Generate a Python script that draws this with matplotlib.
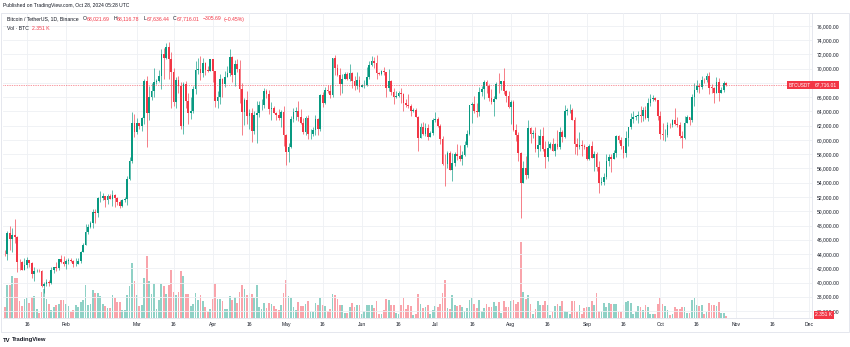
import numpy as np
import pandas as pd
import matplotlib
matplotlib.use("Agg")
import matplotlib.pyplot as plt
import matplotlib.dates as mdates
from matplotlib.patches import Rectangle

plt.rcParams['font.family'] = ['Liberation Sans', 'DejaVu Sans']

# daily BTC/USDT candles, Jan 3 - Oct 28 2024
dates = pd.date_range("2024-01-03", "2024-10-28", freq="D")

opens = [
    # Jan
    44946, 42845, 44151, 44162, 43989, 43943, 46970, 46139, 46627, 46368, 42853, 42842, 41732, 42511, 43137,
    42776, 41262, 41618, 41665, 41545, 39507, 39845, 40077, 39933, 41816, 42120, 42031, 43302, 42941,
    # Feb
    42580, 43082, 43200, 43011, 42583, 42658, 43084, 44339, 45293, 47147, 47771, 48293, 49958, 49699, 51796,
    51880, 52124, 51642, 52137, 51774, 52258, 51849, 51304, 50731, 51571, 51733, 54476, 57037, 62432,
    # Mar
    61130, 62387, 61987, 63113, 68245, 63724, 66074, 66823, 68124, 68313, 68955, 72078, 71452, 73072, 71388,
    69499, 65300, 68393, 67609, 61937, 67840, 65501, 63796, 64037, 67211, 69880, 69988, 69455, 70744, 69892, 69645,
    # Apr
    71333, 69702, 65446, 65980, 68508, 67837, 68896, 69360, 71620, 69146, 70631, 70006, 67116, 63924, 65661,
    63419, 63793, 61277, 63470, 63818, 64940, 64941, 66819, 66414, 64289, 64498, 63770, 63462, 63118, 63866,
    # May
    60672, 58364, 59060, 62882, 63892, 64031, 63162, 62334, 61187, 63049, 60792, 60793, 61448, 62901, 61553,
    66267, 65231, 67051, 66940, 66278, 71448, 70136, 69122, 67929, 68526, 69265, 68518, 69394, 68296, 67578, 68364,
    # Jun
    67491, 67706, 67751, 68804, 70567, 71082, 70757, 69342, 69305, 69647, 69512, 67321, 68243, 66756, 66011,
    66191, 66639, 66490, 65140, 64960, 64828, 64096, 64252, 63180, 60277, 61804, 60864, 61706, 60427, 60986,
    # Jul
    62772, 62900, 62029, 60173, 56662, 56639, 58231, 55857, 56705, 58047, 57718, 57343, 57899, 59231, 60787,
    64870, 65097, 64118, 63974, 66710, 67163, 68154, 67586, 65927, 65372, 65777, 67912, 67813, 68255, 66819, 66201,
    # Aug
    64619, 65357, 61415, 60680, 58116, 53991, 56034, 55027, 61710, 60880, 60945, 58719, 59354, 60609, 58737,
    57560, 58874, 59491, 58427, 59438, 59013, 61157, 60381, 64037, 64157, 64220, 62834, 59415, 59034, 59359, 59119,
    # Sep
    58973, 57301, 59132, 57487, 57970, 56160, 53962, 54160, 54869, 57050, 57648, 57341, 58127, 60571, 60005,
    59182, 58212, 60309, 61759, 62947, 63201, 63348, 63578, 63339, 64262, 63143, 65181, 65769, 65858, 65602,
    # Oct
    63327, 60805, 60649, 60752, 62086, 62058, 62819, 62224, 62131, 60582, 60275, 62445, 63193, 62851, 66046,
    67041, 67612, 67399, 68418, 68362, 69001, 67367, 67362, 66653, 68161, 66642, 67014, 68021.69,
]

highs = [
    45500, 44730, 44361, 44226, 44495, 47248, 47894, 47695, 48969, 46515, 43247, 43079, 43400, 43578, 43198,
    42930, 42196, 41870, 41872, 41700, 40129, 40555, 40300, 42225, 42200, 42842, 43305, 43882, 43745,
    43285, 43494, 43381, 43119, 43494, 43376, 44389, 45614, 48200, 48170, 48575, 50334, 50368, 52043, 52816,
    52575, 52191, 52357, 52485, 52985, 52367, 52065, 51548, 51698, 51950, 54938, 57588, 63913, 63676,
    63114, 62433, 63230, 68499, 69000, 67637, 67985, 70136, 68541, 69887, 72800, 72966, 73650, 73777, 72357,
    70043, 68904, 68956, 68124, 68106, 68240, 66650, 65999, 67622, 71150, 71561, 71769, 71552, 70913, 70355, 71377,
    71342, 69708, 66914, 69291, 68725, 69629, 70326, 72797, 71758, 71172, 71305, 71227, 67932, 65840, 66867,
    64365, 64499, 64125, 65450, 65419, 65700, 67233, 67199, 67075, 65297, 64837, 63923, 64362, 64228, 64734,
    60780, 59625, 63320, 64544, 64646, 65500, 64390, 63019, 63421, 63469, 61490, 61850, 63450, 63099, 66454,
    66753, 67451, 67700, 67700, 71515, 71979, 70623, 70041, 69250, 69563, 69500, 70687, 69560, 68920, 69500, 69033,
    67857, 68409, 70288, 71063, 71758, 71625, 71997, 69583, 69860, 70195, 69558, 69999, 68449, 67294, 66895,
    66928, 67298, 66556, 65727, 66482, 65066, 64528, 64491, 63369, 62350, 62487, 62389, 62225, 61224, 63059,
    63862, 63289, 62275, 60498, 58000, 58475, 58449, 58236, 58296, 59470, 59359, 58526, 59850, 61420, 64900,
    65388, 66128, 65123, 67442, 67598, 68366, 68480, 67800, 67102, 66151, 68200, 69399, 68319, 70079, 66987, 66810,
    65660, 65596, 62189, 61117, 58305, 57040, 57717, 62745, 61800, 61470, 61858, 60713, 61572, 61800, 59850,
    59817, 59700, 60284, 59617, 61432, 61820, 61400, 64955, 64500, 65000, 64481, 63212, 60236, 61166, 59945, 59450,
    59064, 59425, 59809, 58519, 58327, 56995, 54850, 55318, 58088, 58044, 57991, 58588, 60648, 60656, 60381,
    59210, 61320, 61786, 63850, 64133, 63559, 64000, 64745, 64688, 64817, 65839, 66498, 66260, 66076, 65618,
    64130, 62390, 61477, 62484, 62370, 62975, 64478, 63200, 62543, 61321, 63417, 63480, 63285, 66500, 67950,
    68424, 67939, 68969, 68668, 69400, 69500, 67836, 67451, 68850, 68771, 67454, 68332, 68116.78,
]

lows = [
    40750, 42613, 42600, 43400, 43655, 43175, 44500, 44300, 45606, 41500, 41750, 41720, 41718, 42050, 42200,
    40683, 40280, 41500, 41446, 39431, 38555, 39485, 39550, 39822, 41394, 41620, 41804, 42683, 42276,
    41884, 42564, 42880, 42222, 42258, 42565, 42788, 44331, 45242, 46800, 47618, 47710, 48300, 49225, 51310,
    51600, 50625, 51009, 51715, 50760, 50625, 50940, 50521, 50585, 51280, 50901, 54450, 56738, 60364,
    60777, 61561, 61321, 62300, 59005, 62849, 65603, 66000, 67862, 68094, 67194, 68620, 71333, 68555, 64533,
    64780, 64533, 66566, 61555, 60775, 64529, 62260, 63000, 63825, 66386, 69280, 68359, 68904, 69077, 69601, 69624,
    68110, 64586, 64493, 65113, 66011, 67491, 68824, 69043, 68210, 67518, 69567, 65254, 60660, 62134, 62274,
    61600, 59768, 60775, 59600, 63172, 64277, 64500, 65864, 63589, 62794, 63747, 62824, 62793, 61765, 59191,
    56552, 56937, 58849, 62584, 62822, 62700, 62300, 60888, 60769, 60187, 60150, 60631, 60749, 60760, 61320,
    64602, 65107, 66600, 65857, 66060, 69162, 68977, 66312, 66600, 68500, 68456, 68250, 67300, 67075, 67118, 66670,
    67386, 67257, 67612, 68567, 70383, 70119, 68500, 69182, 69130, 69160, 66051, 66902, 66304, 65056, 65890,
    66091, 65130, 64066, 64693, 64559, 63379, 63943, 63180, 58402, 60239, 60712, 60606, 60063, 60383, 60712,
    62497, 61805, 59400, 56550, 53485, 56018, 55724, 54260, 56289, 57157, 57050, 56542, 57756, 59080, 60632,
    62432, 63854, 63246, 63300, 66222, 65777, 66574, 65441, 65106, 63426, 65727, 66640, 67066, 66482, 65302, 64532,
    62303, 61200, 59850, 57122, 49000, 53967, 54560, 54730, 59573, 60242, 58286, 57642, 58506, 58433, 56078,
    57098, 58785, 58408, 57787, 58786, 58783, 59724, 60345, 63540, 63773, 62800, 58034, 57860, 58752, 57703, 58745,
    57201, 57128, 57415, 55606, 55643, 52550, 53745, 53629, 54591, 56386, 55567, 57324, 57650, 59517, 58696,
    57493, 57610, 59174, 61555, 62350, 62758, 62357, 62538, 62700, 62947, 62670, 64819, 65422, 65432, 62856,
    60164, 59996, 59828, 60459, 61689, 61798, 62128, 61860, 60300, 58946, 60087, 62370, 62050, 62457, 64800,
    66750, 66666, 67177, 68024, 68100, 66518, 66571, 65260, 66559, 65522, 66560, 66700, 67636.44,
]

closes = [
    42845, 44151, 44162, 43989, 43943, 46970, 46139, 46627, 46368, 42853, 42842, 41732, 42511, 43137, 42776,
    41262, 41618, 41665, 41545, 39507, 39845, 40077, 39933, 41816, 42120, 42031, 43302, 42941, 42580,
    43082, 43200, 43011, 42583, 42658, 43084, 44339, 45293, 47147, 47771, 48293, 49958, 49699, 51796, 51880,
    52124, 51642, 52137, 51774, 52258, 51849, 51304, 50731, 51571, 51733, 54476, 57037, 62432, 61130,
    62387, 61987, 63113, 68245, 63724, 66074, 66823, 68124, 68313, 68955, 72078, 71452, 73072, 71388, 69499,
    65300, 68393, 67609, 61937, 67840, 65501, 63796, 64037, 67211, 69880, 69988, 69455, 70744, 69892, 69645, 71333,
    69702, 65446, 65980, 68508, 67837, 68896, 69360, 71620, 69146, 70631, 70006, 67116, 63924, 65661, 63419,
    63793, 61277, 63470, 63818, 64940, 64941, 66819, 66414, 64289, 64498, 63770, 63462, 63118, 63866, 60672,
    58364, 59060, 62882, 63892, 64031, 63162, 62334, 61187, 63049, 60792, 60793, 61448, 62901, 61553, 66267,
    65231, 67051, 66940, 66278, 71448, 70136, 69122, 67929, 68526, 69265, 68518, 69394, 68296, 67578, 68364, 67491,
    67706, 67751, 68804, 70567, 71082, 70757, 69342, 69305, 69647, 69512, 67321, 68243, 66756, 66011, 66191,
    66639, 66490, 65140, 64960, 64828, 64096, 64252, 63180, 60277, 61804, 60864, 61706, 60427, 60986, 62772,
    62900, 62029, 60173, 56662, 56639, 58231, 55857, 56705, 58047, 57718, 57343, 57899, 59231, 60787, 64870,
    65097, 64118, 63974, 66710, 67163, 68154, 67586, 65927, 65372, 65777, 67912, 67813, 68255, 66819, 66201, 64619,
    65357, 61415, 60680, 58116, 53991, 56034, 55027, 61710, 60880, 60945, 58719, 59354, 60609, 58737, 57560,
    58874, 59491, 58427, 59438, 59013, 61157, 60381, 64037, 64157, 64220, 62834, 59415, 59034, 59359, 59119, 58973,
    57301, 59132, 57487, 57970, 56160, 53962, 54160, 54869, 57050, 57648, 57341, 58127, 60571, 60005, 59182,
    58212, 60309, 61759, 62947, 63201, 63348, 63578, 63339, 64262, 63143, 65181, 65769, 65858, 65602, 63327,
    60805, 60649, 60752, 62086, 62058, 62819, 62224, 62131, 60582, 60275, 62445, 63193, 62851, 66046, 67041,
    67612, 67399, 68418, 68362, 69001, 67367, 67362, 66653, 68161, 66642, 67014, 68022, 67716.01,
]

# volume in thousand BTC
volumes = [
    45, 15, 15, 10, 14, 41, 41, 53, 50, 50, 21, 15, 24, 25, 19, 26, 28, 11, 6, 33, 36, 24, 18, 10, 14, 16, 18, 23, 23,
    18, 15, 8, 10, 16, 14, 20, 23, 41, 16, 18, 35, 31, 31, 28, 18, 15, 13, 13, 29, 25, 20, 20, 10, 10, 29, 40, 69, 46,
    29, 15, 16, 50, 78, 46, 30, 43, 11, 23, 43, 40, 30, 41, 60, 33, 29, 33, 59, 53, 30, 30, 15, 18, 31, 23, 29, 21, 14, 8, 11,
    24, 43, 24, 24, 21, 11, 11, 28, 23, 26, 19, 33, 41, 36, 29, 31, 30, 25, 41, 14, 11, 19, 13, 19, 18, 15, 11, 10, 16, 31,
    48, 28, 25, 14, 10, 20, 15, 15, 18, 21, 8, 8, 19, 16, 25, 16, 15, 9, 11, 30, 29, 24, 16, 16, 6, 6, 14, 19, 14, 16, 16,
    5, 9, 16, 16, 16, 13, 21, 5, 5, 10, 24, 23, 16, 16, 6, 5, 16, 25, 11, 16, 15, 4, 5, 30, 18, 13, 14, 16, 5, 10,
    15, 14, 18, 31, 48, 13, 11, 29, 16, 15, 16, 14, 9, 13, 23, 25, 18, 13, 23, 9, 13, 18, 14, 14, 20, 15, 20, 6, 21, 14, 14,
    21, 23, 18, 20, 95, 33, 24, 29, 18, 5, 11, 21, 16, 16, 21, 16, 4, 8, 15, 18, 15, 21, 9, 8, 5, 21, 21, 8, 16, 5, 13,
    14, 14, 21, 16, 31, 9, 9, 19, 14, 19, 18, 18, 18, 8, 8, 16, 20, 21, 19, 5, 9, 15, 14, 10, 16, 14, 5, 5, 5, 18,
    25, 18, 15, 10, 4, 5, 14, 11, 11, 14, 14, 6, 6, 23, 25, 16, 15, 16, 5, 8, 19, 16, 16, 15, 20, 6, 6, 2.351,
]

price_ticks = list(range(36000, 77000, 2000))
time_ticks = ["2024-01-16", "2024-02-01", "2024-03-01", "2024-03-16", "2024-04-01", "2024-04-16",
              "2024-05-01", "2024-05-16", "2024-06-01", "2024-06-16", "2024-07-01", "2024-07-16",
              "2024-08-01", "2024-08-16", "2024-09-01", "2024-09-16", "2024-10-01", "2024-10-16",
              "2024-11-01", "2024-11-16", "2024-12-01"]
time_labels = ["16", "Feb", "Mar", "16", "Apr", "16", "May", "16", "Jun", "16", "Jul", "16",
               "Aug", "16", "Sep", "16", "Oct", "16", "Nov", "16", "Dec"]

last_price = 67716.01

UP = "#089981"
DOWN = "#f23645"
UP_VOL = (8 / 255, 153 / 255, 129 / 255, 0.45)
DOWN_VOL = (242 / 255, 54 / 255, 69 / 255, 0.45)
TXT = "#131722"
GRID = "#eef0f4"

W, H = 850, 347
fig = plt.figure(figsize=(W / 100, H / 100), dpi=100)
fig.patch.set_facecolor("white")

# pixel layout of the chart pane
left, right, top, bottom = 3, 812, 13, 318
ax = fig.add_axes([left / W, 1 - bottom / H, (right - left) / W, (bottom - top) / H])
ax2 = ax.twinx()
ax.set_zorder(2)
ax2.set_zorder(1)
ax.patch.set_visible(False)

x = mdates.date2num(dates)
o = np.array(opens, dtype=float)
h = np.array(highs, dtype=float)
l = np.array(lows, dtype=float)
c = np.array(closes, dtype=float)
up = c >= o

# volume
ax2.bar(x, volumes, width=0.72, color=[UP_VOL if u else DOWN_VOL for u in up], linewidth=0)
ax2.set_ylim(0, 381)
ax2.set_yticks([])
for s in ax2.spines.values():
    s.set_visible(False)

# candles
cols = [UP if u else DOWN for u in up]
ax.vlines(x, l, h, colors=cols, linewidth=0.45, zorder=3)
body = np.maximum(np.abs(c - o), 40)
ax.bar(x, body, bottom=np.minimum(o, c), width=0.7, color=cols, linewidth=0, zorder=4)

jan1 = mdates.date2num(pd.Timestamp("2024-01-01"))
ax.set_xlim(jan1 + 5.235, jan1 + 336.1)
ax.set_ylim(35018, 77824)

# 68,000 sits under the last-price label, so its text is left blank
ax.set_yticks(price_ticks)
ax.set_yticklabels(["" if p == 68000 else f"{p:,.2f}" for p in price_ticks])
ax.yaxis.tick_right()
ax.set_xticks(mdates.date2num(pd.to_datetime(time_ticks)))
ax.set_xticklabels(time_labels)
ax.tick_params(axis="both", length=0, labelsize=3.6, labelcolor=TXT)
ax.tick_params(axis="y", pad=3.6)
ax.tick_params(axis="x", pad=2.9)
ax.grid(True, color=GRID, linewidth=0.6, zorder=0)
ax.set_axisbelow(True)
for name, s in ax.spines.items():
    if name in ("right", "bottom"):
        s.set_color("#e0e3eb")
        s.set_linewidth(0.6)
    else:
        s.set_visible(False)

# last price line and labels
ax.axhline(last_price, color=DOWN, linestyle=(0, (1, 1.5)), linewidth=0.5, zorder=5)
ax.text(0.999, last_price, "BTCUSDT", transform=ax.get_yaxis_transform(), ha="right", va="center",
        fontsize=3.4, color="white", zorder=6,
        bbox=dict(boxstyle="square,pad=0.35", fc=DOWN, ec="none"))
ax.text(1.004, last_price, "67,716.01", transform=ax.get_yaxis_transform(), ha="left", va="center",
        fontsize=3.6, color="white", clip_on=False, zorder=6,
        bbox=dict(boxstyle="square,pad=0.35", fc=DOWN, ec="none"))
fig.text(815 / W, 1 - 315 / H, "2.351 K", ha="left", va="center", fontsize=3.6, color="white",
         bbox=dict(boxstyle="square,pad=0.3", fc=DOWN, ec="none"), zorder=10)

# outer frame
fig.add_artist(Rectangle((1 / W, 1 - 332 / H), 848 / W, 319 / H, transform=fig.transFigure,
                         fill=False, edgecolor="#e0e3eb", linewidth=0.6))

fig.text(3 / W, 1 - 6 / H, "Published on TradingView.com, Oct 28, 2024 05:28 UTC",
         fontsize=3.6, color=TXT, va="center", ha="left")


def put_pieces(x_px, y_px, pieces, size):
    r = fig.canvas.get_renderer()
    for s, col, gap in pieces:
        t = fig.text(x_px / W, 1 - y_px / H, s, color=col, fontsize=size, va="center", ha="left")
        x_px += t.get_window_extent(r).width + gap


put_pieces(7, 19, [
    ("Bitcoin / TetherUS, 1D, Binance", TXT, 4),
    ("O", TXT, 0.3), ("68,021.69", DOWN, 3.5),
    ("H", TXT, 0.3), ("68,116.78", DOWN, 3.5),
    ("L", TXT, 0.3), ("67,636.44", DOWN, 3.5),
    ("C", TXT, 0.3), ("67,716.01", DOWN, 3.5),
    ("\u2212305.69", DOWN, 1.5), ("(\u22120.45%)", DOWN, 0),
], 3.7)
put_pieces(7, 28, [("Vol \u00b7 BTC", TXT, 3), ("2.351 K", DOWN, 0)], 3.7)

# TradingView mark
fig.text(3 / W, 1 - 340 / H, "TV", fontsize=4.2, fontweight="bold", color=TXT, va="center", ha="left")
fig.text(12 / W, 1 - 340 / H, "TradingView", fontsize=4.2, fontweight="bold", color=TXT, va="center", ha="left")

fig.savefig("out.png", dpi=100)
